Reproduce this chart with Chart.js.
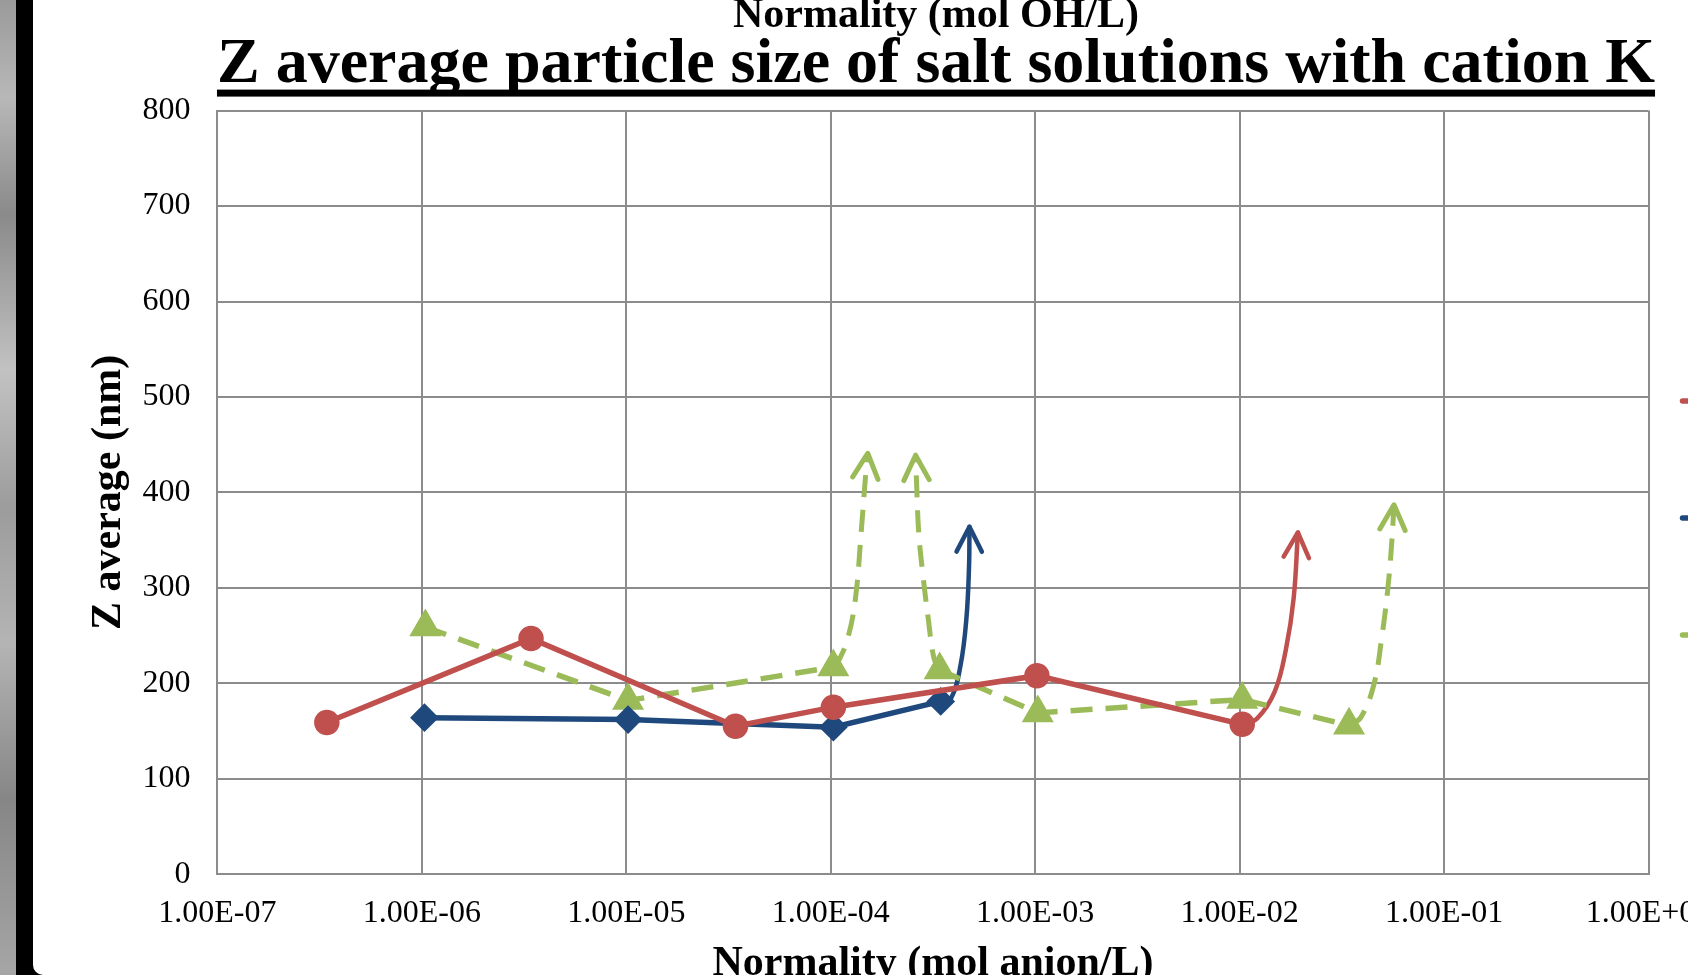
<!DOCTYPE html>
<html>
<head>
<meta charset="utf-8">
<title>Z average particle size of salt solutions with cation K</title>
<script src="https://cdn.jsdelivr.net/npm/chart.js@4.4.1/dist/chart.umd.min.js"></script>
<style>
  html, body { margin: 0; padding: 0; width: 1688px; height: 975px; overflow: hidden; background: #fff; }
  #strip { position: absolute; left: 0; top: 0; width: 16px; height: 975px;
    background: linear-gradient(180deg, #9a9a9a 0%, #b8b8b8 10%, #8a8a8a 22%, #c2c2c2 38%, #9c9c9c 52%, #b4b4b4 66%, #868686 82%, #a6a6a6 100%); }
  #frame { position: absolute; left: 16px; top: 0; width: 1672px; height: 975px; background: #000; }
  #card { position: absolute; left: 17px; top: 0; right: 0; bottom: 0; background: #fff; border-bottom-left-radius: 10px; }
  #wrap { position: absolute; left: 0; top: -20px; width: 1788px; height: 1076px; }
</style>
</head>
<body>
<div id="strip"></div>
<div id="frame"><div id="card"></div></div>
<div id="wrap"><canvas id="sizeChart"></canvas></div>
<script>
// values
const seriesNames = ['KCl', 'KNO3', 'KOH'];
const redX = [3.43e-7, 3.42e-6, 3.42e-5, 1.03e-4, 1.02e-3, 1.03e-2];
const redY = [159, 247, 155, 175, 208, 157];
const blueX = [1.03e-6, 1.02e-5, 1.03e-4, 3.45e-4];
const blueY = [164, 162, 154, 181];
// null = break in the dashed line
const greenX = [1.04e-6, 1.02e-5, 1.03e-4, 2.0e-4, 3.41e-4, 1.03e-3, 1.03e-2, 3.43e-2];
const greenY = [259, 182, 217, null, 214, 169, 183, 156];

// hand drawn arrows on the slide (data coords)
const arrowRedX = [1.03e-2, 0.01216, 0.01483, 0.01686, 0.01838, 0.01928];
const arrowRedY = [157, 163, 191, 236, 289, 358];
const arrowBlueX = [3.45e-4, 3.88e-4, 4.32e-4, 4.61e-4, 4.75e-4, 4.77e-4];
const arrowBlueY = [181, 184.5, 219.5, 268, 324, 364];
const arrowGreen1X = [1.03e-4, 1.089e-4, 1.211e-4, 1.321e-4, 1.410e-4, 1.484e-4, 1.517e-4];
const arrowGreen1Y = [217, 223, 247, 289, 359, 420, 441];
const arrowGreen2X = [3.41e-4, 3.20e-4, 2.998e-4, 2.812e-4, 2.692e-4, 2.63e-4, 2.60e-4];
const arrowGreen2Y = [214, 226, 268, 317, 359, 410, 439];
const arrowGreen3X = [3.43e-2, 0.0391, 0.0454, 0.0495, 0.0529, 0.0552, 0.0569];
const arrowGreen3Y = [156, 164, 199, 247, 296, 341, 387];

const xTicks = [1e-7, 1e-6, 1e-5, 1e-4, 1e-3, 1e-2, 1e-1, 1];

const mainTitle = 'Z average particle size of salt solutions with cation K';
const topAxisTitle = 'Normality (mol OH/L)';
const xTitle = 'Normality (mol anion/L)';
const yTitle = 'Z average (nm)';

const RED = '#C0504D', BLUE = '#1F497D', GREEN = '#9BBB59', GRID = '#8c8c8c';
const FONT = '"Liberation Serif", "Times New Roman", serif';

const pts = (xs, ys) => xs.map((x, i) => ({ x: x, y: ys[i] }));

function sci(v) {
  const parts = v.toExponential(2).split('e');
  const e = parseInt(parts[1], 10);
  return parts[0] + 'E' + (e < 0 ? '-' : '+') + String(Math.abs(e)).padStart(2, '0');
}

function arrowSet(xs, ys, color, width, dash) {
  return {
    isArrow: true,
    data: pts(xs, ys),
    borderColor: color,
    borderWidth: width,
    borderDash: dash || [],
    borderCapStyle: dash ? 'butt' : 'round',
    pointRadius: 0,
    tension: 0.4,
    fill: false
  };
}

// open chevron at the end of each arrow
const arrowHeads = {
  id: 'arrowHeads',
  afterDatasetsDraw(chart) {
    const ctx = chart.ctx;
    chart.data.datasets.forEach((ds, i) => {
      if (!ds.isArrow) return;
      const p = chart.getDatasetMeta(i).data;
      const tip = p[p.length - 1], prev = p[p.length - 2];
      const ang = Math.atan2(tip.y - prev.y, tip.x - prev.x) + Math.PI;
      const len = 28, spread = 0.47;
      ctx.save();
      ctx.strokeStyle = ds.borderColor;
      ctx.lineWidth = ds.borderWidth;
      ctx.lineCap = 'round';
      ctx.lineJoin = 'round';
      ctx.beginPath();
      ctx.moveTo(tip.x + len * Math.cos(ang - spread), tip.y + len * Math.sin(ang - spread));
      ctx.lineTo(tip.x, tip.y);
      ctx.lineTo(tip.x + len * Math.cos(ang + spread), tip.y + len * Math.sin(ang + spread));
      ctx.stroke();
      ctx.restore();
    });
  }
};

// the slide title is underlined
const titleUnderline = {
  id: 'titleUnderline',
  afterDraw(chart) {
    const box = chart.boxes.find(b => b.options && b.options.text === mainTitle);
    if (!box) return;
    const ctx = chart.ctx;
    ctx.save();
    ctx.font = 'bold 64px ' + FONT;
    const w = ctx.measureText(mainTitle).width;
    const cx = (box.left + box.right) / 2;
    ctx.fillStyle = '#000';
    ctx.fillRect(cx - w / 2, box.bottom - 21, w, 7);
    ctx.restore();
  }
};

const ctx = document.getElementById('sizeChart').getContext('2d');

new Chart(ctx, {
  type: 'line',
  data: {
    datasets: [
      {
        label: seriesNames[0], data: pts(redX, redY),
        borderColor: RED, backgroundColor: RED, borderWidth: 5.5,
        pointStyle: 'circle', pointRadius: 10, pointBackgroundColor: RED, pointBorderColor: RED,
        tension: 0
      },
      {
        label: seriesNames[1], data: pts(blueX, blueY),
        borderColor: BLUE, backgroundColor: BLUE, borderWidth: 5.5,
        pointStyle: 'rectRot', pointRadius: 10.5, pointBackgroundColor: BLUE, pointBorderColor: BLUE,
        tension: 0
      },
      {
        label: seriesNames[2], data: pts(greenX, greenY),
        borderColor: GREEN, backgroundColor: GREEN, borderWidth: 5.5, borderDash: [22, 13],
        pointStyle: 'triangle', pointRadius: 13, pointBackgroundColor: GREEN, pointBorderColor: GREEN,
        tension: 0, spanGaps: false
      },
      arrowSet(arrowBlueX, arrowBlueY, BLUE, 4.5),
      arrowSet(arrowRedX, arrowRedY, RED, 4.5),
      arrowSet(arrowGreen1X, arrowGreen1Y, GREEN, 5, [22, 13]),
      arrowSet(arrowGreen2X, arrowGreen2Y, GREEN, 5, [22, 13]),
      arrowSet(arrowGreen3X, arrowGreen3Y, GREEN, 5, [22, 13])
    ]
  },
  options: {
    responsive: true,
    maintainAspectRatio: false,
    animation: false,
    events: [],
    layout: { padding: { left: 84, top: 0, right: 0, bottom: 0 } },
    plugins: {
      tooltip: { enabled: false },
      title: {
        display: true, text: topAxisTitle, color: '#000',
        font: { family: FONT, size: 42, weight: 'bold', lineHeight: 1 },
        padding: { top: 15.5, bottom: 0 }
      },
      subtitle: {
        display: true, text: mainTitle, color: '#000',
        font: { family: FONT, size: 64, weight: 'bold', lineHeight: 0.9 },
        padding: { top: -1, bottom: 16.5 }
      },
      legend: {
        position: 'right',
        maxWidth: 139.5,
        labels: {
          usePointStyle: true,
          pointStyleWidth: 40,
          padding: 34,
          color: '#000',
          font: { family: FONT, size: 83 },
          generateLabels: chart => chart.data.datasets
            .map((ds, i) => ({ ds: ds, i: i }))
            .filter(o => !o.ds.isArrow)
            .map(o => ({
              text: o.ds.label,
              fillStyle: o.ds.borderColor,
              strokeStyle: o.ds.borderColor,
              lineWidth: 5.5,
              lineCap: 'round',
              pointStyle: 'line',
              hidden: false,
              datasetIndex: o.i
            }))
        }
      }
    },
    scales: {
      x: {
        type: 'logarithmic',
        min: 1e-7,
        max: 1,
        afterBuildTicks: scale => { scale.ticks = xTicks.map(v => ({ value: v })); },
        ticks: {
          callback: v => sci(v),
          color: '#000',
          font: { family: FONT, size: 32 },
          padding: 20,
          maxRotation: 0,
          autoSkip: false
        },
        grid: { color: GRID, lineWidth: 2, drawTicks: false },
        border: { color: GRID, width: 2 },
        title: {
          display: true, text: xTitle, color: '#000',
          font: { family: FONT, size: 42, weight: 'bold', lineHeight: 1.2 },
          padding: { top: -14, bottom: 67 }
        }
      },
      y: {
        min: 0,
        max: 800,
        ticks: {
          stepSize: 100,
          color: '#000',
          font: { family: FONT, size: 32 },
          padding: 27
        },
        grid: { color: GRID, lineWidth: 2, drawTicks: false },
        border: { color: GRID, width: 2 },
        title: {
          display: true, text: yTitle, color: '#000',
          font: { family: FONT, size: 42, weight: 'bold', lineHeight: 1.2 },
          padding: { top: 0, bottom: -19 }
        }
      }
    }
  },
  plugins: [arrowHeads, titleUnderline]
});
</script>
</body>
</html>
